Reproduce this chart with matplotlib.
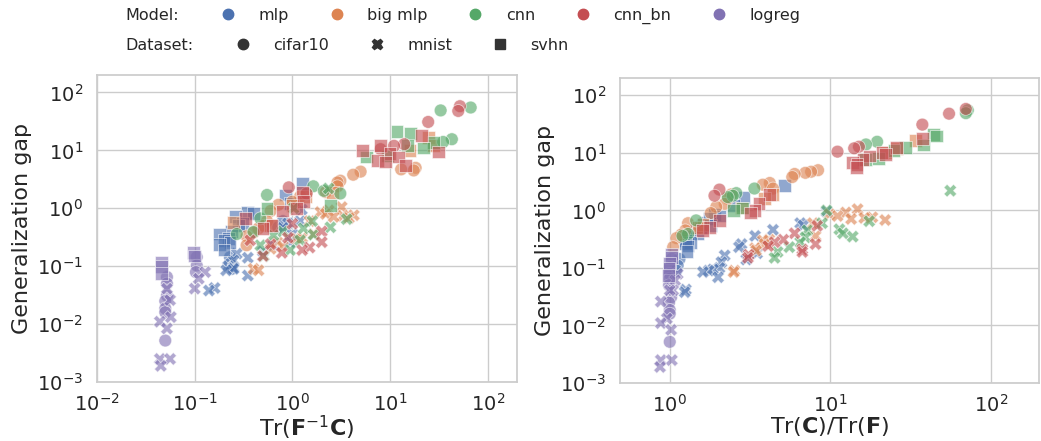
import matplotlib
matplotlib.use("Agg")
import matplotlib.pyplot as plt
import seaborn as sns
import pandas as pd
from matplotlib.lines import Line2D

models = ["mlp", "big mlp", "cnn", "cnn_bn", "logreg"]
datasets = ["cifar10", "mnist", "svhn"]
colors = ["#4C72B0", "#DD8452", "#55A868", "#C44E52", "#8172B3"]
markers = {"cifar10": "o", "mnist": "X", "svhn": "s"}

# each point: (generalization gap, Tr(F^-1 C), Tr(C)/Tr(F))
mlp_cifar10 = [(0.143, 0.23, 1.15), (0.11, 0.23, 1.12), (0.09, 0.24, 1.1),
               (0.47, 0.72, 1.45), (0.6, 0.8, 1.6)]
mlp_mnist = [(0.95, 1.25, 9.5), (0.6, 1.2, 6.5), (0.55, 0.9, 6.8), (0.46, 0.8, 4.4),
             (0.36, 1.0, 3.4), (0.26, 0.95, 2.8), (0.23, 0.64, 2.7), (0.18, 0.5, 3.5),
             (0.165, 0.27, 2.2), (0.14, 0.35, 3.0), (0.126, 0.25, 2.1), (0.1, 0.22, 2.04),
             (0.094, 0.25, 1.86), (0.09, 0.25, 1.75), (0.085, 0.21, 1.61), (0.069, 0.35, 2.0),
             (0.042, 0.16, 1.26), (0.038, 0.14, 1.24)]
mlp_svhn = [(2.7, 1.26, 5.2), (1.7, 0.85, 2.9), (1.2, 0.95, 2.5), (0.85, 0.35, 1.9),
            (0.8, 0.4, 2.05), (0.72, 0.26, 1.77), (0.55, 0.31, 1.8), (0.5, 0.28, 1.55),
            (0.4, 0.24, 1.5), (0.36, 0.18, 1.30), (0.3, 0.22, 1.25), (0.28, 0.2, 1.35),
            (0.26, 0.23, 1.26), (0.24, 0.18, 1.3), (0.19, 0.2, 1.28)]

big_mlp_cifar10 = [(5.0, 18.3, 8.4), (4.7, 13, 7.6), (4.5, 17.5, 7.0), (4.3, 5.0, 6.0),
                   (3.8, 4.2, 5.8), (3.0, 3.1, 4.2), (2.8, 2.9, 3.8), (2.4, 2.9, 4.4),
                   (1.9, 2.2, 2.42), (1.6, 1.2, 2.3), (1.3, 1.0, 2.2), (1.15, 0.72, 1.95),
                   (0.9, 0.6, 1.8), (0.6, 0.55, 1.3), (0.5, 0.51, 1.54), (0.45, 0.45, 1.25),
                   (0.38, 0.4, 1.18), (0.33, 0.34, 1.1), (0.23, 0.34, 1.05)]
big_mlp_mnist = [(1.05, 3.2, 14.8), (0.92, 2.36, 12.5), (0.86, 1.94, 9.9), (0.8, 2.2, 11.1),
                 (0.76, 4.26, 18.3), (0.74, 3.3, 16.3), (0.71, 2.65, 13.5), (0.68, 3.8, 22),
                 (0.6, 1.5, 7.8), (0.36, 1.65, 8.1), (0.31, 1.26, 4.17), (0.3, 1.1, 3.8),
                 (0.26, 0.7, 3.9), (0.22, 0.8, 3.4), (0.2, 0.6, 3.45), (0.09, 0.4, 2.53),
                 (0.085, 0.45, 2.5)]
big_mlp_svhn = [(16.5, 25, 34), (12.0, 28, 26), (10.0, 16, 22), (1.9, 2.6, 4.4),
                (1.6, 1.36, 3.9), (1.1, 1.0, 2.8), (0.56, 0.25, 1.61), (0.5, 0.6, 1.5)]

cnn_cifar10 = [(55, 67, 72), (49, 33, 70), (15.6, 43, 19.6), (14.0, 35, 16.7),
               (2.4, 1.64, 3.37), (2.0, 2.1, 2.6), (1.8, 3.1, 2.47), (1.7, 0.55, 2.3),
               (0.67, 0.47, 1.46), (0.39, 0.4, 1.3), (0.36, 0.27, 1.2)]
cnn_mnist = [(2.2, 2.35, 56), (1.0, 1.03, 9.5), (0.65, 3.6, 17.5), (0.6, 1.6, 8.9),
             (0.47, 2.45, 11.4), (0.45, 1.3, 7.2), (0.4, 0.8, 12), (0.35, 1.65, 13.8),
             (0.34, 0.64, 7.0), (0.28, 1.2, 6.5), (0.23, 0.47, 5.56), (0.19, 0.95, 4.7),
             (0.15, 0.51, 4.5)]
cnn_svhn = [(21, 11.8, 44), (19.6, 16.3, 46), (13.7, 28, 38), (12.3, 15, 29.5),
            (11, 22, 25), (8, 9.5, 20), (7.7, 5.8, 16.5), (1.1, 2.45, 2.85), (1.0, 0.55, 2.5)]

cnn_bn_cifar10 = [(58, 52, 70), (48, 50, 55), (31, 24.6, 37.5), (12.8, 14, 15.1),
                  (12, 11, 14.1), (10.5, 8, 11.1), (2.3, 0.92, 2.04), (1.8, 1.4, 1.9)]
cnn_bn_mnist = [(0.54, 1.0, 8.3), (0.4, 2.0, 6.0), (0.31, 0.9, 5.1), (0.28, 0.37, 4.5),
                (0.26, 2.0, 8.1), (0.24, 0.6, 4.1), (0.21, 1.5, 6.7), (0.19, 1.26, 6.7),
                (0.17, 0.78, 3.1), (0.15, 0.5, 3.07)]
cnn_bn_svhn = [(18, 21, 37.5), (12.3, 8, 26), (10, 5.2, 21), (9.4, 31.6, 22),
               (8.8, 10, 17.5), (7.7, 12.3, 16), (6.7, 7.4, 13.7), (6.3, 9, 14.7),
               (5.5, 14.4, 14.5), (1.9, 1.26, 4.2), (1.3, 1.3, 3.6), (1.0, 1.1, 3.4),
               (0.9, 0.8, 3.2), (0.66, 0.33, 2.04), (0.5, 0.62, 1.77), (0.45, 0.5, 1.6)]

logreg_cifar10 = [(0.144, 0.105, 1.03), (0.103, 0.105, 1.0), (0.079, 0.103, 1.0),
                  (0.065, 0.052, 1.0), (0.05, 0.052, 0.99), (0.031, 0.052, 1.02),
                  (0.025, 0.05, 0.99), (0.0186, 0.05, 1.0), (0.016, 0.05, 1.0),
                  (0.0052, 0.05, 1.0)]
logreg_mnist = [(0.079, 0.128, 1.12), (0.061, 0.11, 1.08), (0.041, 0.1, 1.05),
                (0.041, 0.052, 1.0), (0.026, 0.056, 0.88), (0.0132, 0.057, 0.96),
                (0.011, 0.044, 0.88), (0.0084, 0.052, 1.02), (0.0025, 0.044, 0.88),
                (0.0025, 0.056, 1.03), (0.0019, 0.045, 0.87)]
logreg_svhn = [(0.175, 0.097, 1.02), (0.15, 0.1, 1.02), (0.118, 0.046, 1.0),
               (0.1, 0.046, 0.99), (0.075, 0.046, 0.98)]

groups = [
    ("mlp", "cifar10", mlp_cifar10), ("mlp", "mnist", mlp_mnist), ("mlp", "svhn", mlp_svhn),
    ("big mlp", "cifar10", big_mlp_cifar10), ("big mlp", "mnist", big_mlp_mnist),
    ("big mlp", "svhn", big_mlp_svhn),
    ("cnn", "cifar10", cnn_cifar10), ("cnn", "mnist", cnn_mnist), ("cnn", "svhn", cnn_svhn),
    ("cnn_bn", "cifar10", cnn_bn_cifar10), ("cnn_bn", "mnist", cnn_bn_mnist),
    ("cnn_bn", "svhn", cnn_bn_svhn),
    ("logreg", "cifar10", logreg_cifar10), ("logreg", "mnist", logreg_mnist),
    ("logreg", "svhn", logreg_svhn),
]

rows = []
for model, dataset, pts in groups:
    for gap, fc, cf in pts:
        rows.append({"Model": model, "Dataset": dataset, "gap": gap, "fc": fc, "cf": cf})
df = pd.DataFrame(rows)

sns.set_theme(style="whitegrid")
plt.rcParams["font.family"] = ["DejaVu Sans"]

fig = plt.figure(figsize=(10.41, 4.41), dpi=100)
ax1 = fig.add_axes([0.0932, 0.1338, 0.4035, 0.696])
ax2 = fig.add_axes([0.5956, 0.1315, 0.4025, 0.6916])

panels = [
    (ax1, "fc", r"Tr($\mathbf{F}^{-1}\mathbf{C}$)", (0.01, 200)),
    (ax2, "cf", r"Tr($\mathbf{C}$)/Tr($\mathbf{F}$)", (0.49, 200)),
]
for ax, col, xlabel, xlim in panels:
    sns.scatterplot(data=df, x=col, y="gap", hue="Model", style="Dataset",
                    hue_order=models, style_order=datasets, markers=markers,
                    palette=colors, s=85, alpha=0.62, edgecolor="white",
                    linewidth=0.6, ax=ax, legend=False)
    ax.set_xscale("log")
    ax.set_yscale("log")
    ax.set_xlim(*xlim)
    ax.set_ylim(0.001, 200)
    ax.set_xlabel(xlabel, fontsize=16, labelpad=-1)
    ax.set_ylabel("Generalization gap", fontsize=16)
    ax.tick_params(axis="x", labelsize=14, pad=2)
    ax.tick_params(axis="y", labelsize=14, pad=4)
    ax.minorticks_off()

# legend: two rows, a title text followed by a one-row legend
row1_y = 1 - 16 / 441
row2_y = 1 - 45 / 441
fig.text(125 / 1041, row1_y, "Model:", fontsize=11.5, va="center", color=".15")
fig.text(125 / 1041, row2_y, "Dataset:", fontsize=11.5, va="center", color=".15")

leg_kw = dict(loc="center left", frameon=False, fontsize=11.5, handlelength=1,
              handletextpad=1.4, columnspacing=2.5, borderpad=0, borderaxespad=0)
model_handles = [Line2D([], [], marker="o", ls="", color=c, markersize=7.5) for c in colors]
fig.legend(model_handles, models, ncol=5, bbox_to_anchor=(220 / 1041, row1_y), **leg_kw)
data_handles = [Line2D([], [], marker=markers[d], ls="", color=".2", markersize=7.5)
                for d in datasets]
fig.legend(data_handles, datasets, ncol=3, bbox_to_anchor=(235 / 1041, row2_y), **leg_kw)

fig.savefig("out.png", dpi=100)
